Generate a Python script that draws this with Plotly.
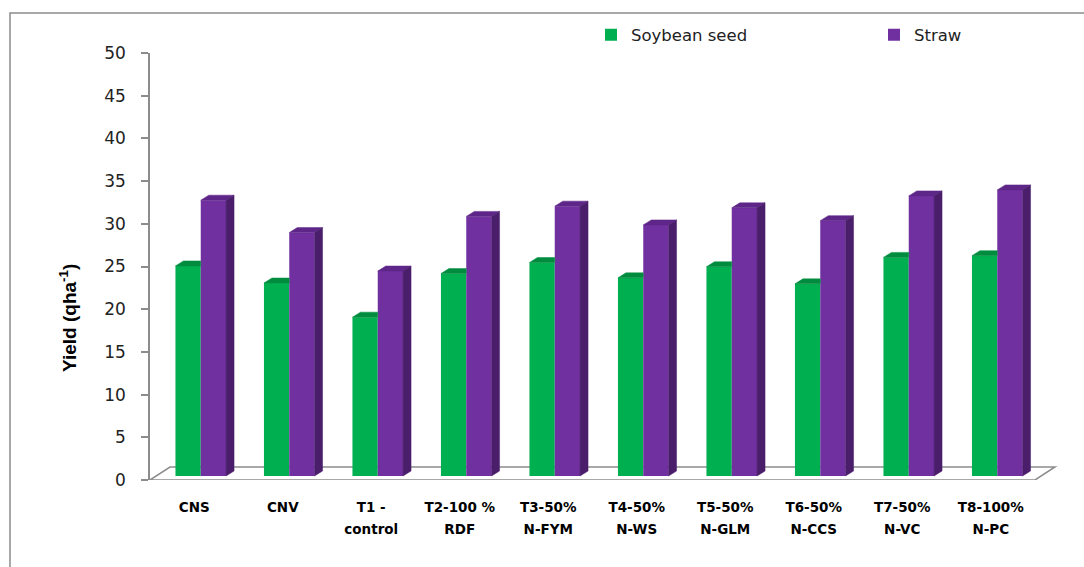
import plotly.graph_objects as go

# ---- data -------------------------------------------------------------
categories_line1 = ["CNS", "CNV", "T1 -", "T2-100 %", "T3-50%", "T4-50%", "T5-50%",
                    "T6-50%", "T7-50%", "T8-100%"]
categories_line2 = ["", "", "control", "RDF", "N-FYM", "N-WS", "N-GLM", "N-CCS",
                    "N-VC", "N-PC"]
seed_yield = [24.6, 22.6, 18.6, 23.7, 25.0, 23.2, 24.5, 22.5, 25.6, 25.8]
straw_yield = [32.3, 28.5, 24.0, 30.4, 31.6, 29.4, 31.4, 29.9, 32.8, 33.5]
y_ticks = [0, 5, 10, 15, 20, 25, 30, 35, 40, 45, 50]

# ---- layout geometry (pixels) ----------------------------------------
W, H = 1084, 567
PLOT_L, PLOT_R, PLOT_T, PLOT_B = 150, 1062, 53, 480
PX_PER_CAT = 88.5
Y_MAX = 50
PX_PER_Y = (PLOT_B - PLOT_T) / Y_MAX
X_MIN = -0.5
X_MAX = X_MIN + (PLOT_R - PLOT_L) / PX_PER_CAT


def dx(px):
    return px / PX_PER_CAT


def dy(px):
    return px / PX_PER_Y


def paper_x(px):
    return (px - PLOT_L) / (PLOT_R - PLOT_L)


def paper_y(px):
    return (PLOT_B - px) / (PLOT_B - PLOT_T)


# 3-D look: floor depth, where the bars stand in it, and the bar depth
FLOOR_DX, FLOOR_DY = dx(20), dy(13)
FRONT_DX, FRONT_DY = dx(6.5), dy(4)
BAR_DX, BAR_DY = dx(8), dy(5)
BAR_W = dx(25.3)

GREEN, GREEN_TOP = "#00B050", "#008C3F"
PURPLE, PURPLE_TOP, PURPLE_SIDE = "#7030A0", "#5E2689", "#4B1E6C"
GRID_GREY = "#8C8C8C"

n = len(categories_line1)
idx = list(range(n))
seed_x = [i + FRONT_DX - BAR_W / 2 for i in idx]
straw_x = [i + FRONT_DX + BAR_W / 2 for i in idx]

fig = go.Figure()

fig.add_trace(go.Bar(x=seed_x, y=seed_yield, base=FRONT_DY, width=BAR_W,
                     marker=dict(color=GREEN, line=dict(width=0)),
                     name="Soybean seed"))
fig.add_trace(go.Bar(x=straw_x, y=straw_yield, base=FRONT_DY, width=BAR_W,
                     marker=dict(color=PURPLE, line=dict(width=0)),
                     name="Straw"))


def faces(xs, vals, kind):
    px, py = [], []
    for xc, v in zip(xs, vals):
        xl, xr = xc - BAR_W / 2, xc + BAR_W / 2
        top = FRONT_DY + v
        if kind == "top_clipped":
            pts = [(xl, top), (xr, top), (xr, top + BAR_DY), (xl + BAR_DX, top + BAR_DY)]
        elif kind == "top":
            pts = [(xl, top), (xr, top), (xr + BAR_DX, top + BAR_DY), (xl + BAR_DX, top + BAR_DY)]
        else:
            pts = [(xr, FRONT_DY), (xr + BAR_DX, FRONT_DY + BAR_DY),
                   (xr + BAR_DX, top + BAR_DY), (xr, top)]
        pts.append(pts[0])
        px += [p[0] for p in pts] + [None]
        py += [p[1] for p in pts] + [None]
    return px, py


for xs, vals, kind, col in [
    (seed_x, seed_yield, "top_clipped", GREEN_TOP),
    (straw_x, straw_yield, "top", PURPLE_TOP),
    (straw_x, straw_yield, "side", PURPLE_SIDE),
]:
    fx, fy = faces(xs, vals, kind)
    fig.add_trace(go.Scatter(x=fx, y=fy, mode="lines", fill="toself", fillcolor=col,
                             line=dict(color=col, width=0.5), hoverinfo="skip",
                             showlegend=False))

# second line of the category labels lives on an overlaid axis
line2_vals = [i for i in idx if categories_line2[i]]
line2_text = [categories_line2[i] for i in line2_vals]
fig.add_trace(go.Scatter(x=idx, y=[0] * n, xaxis="x2", mode="markers",
                         marker=dict(opacity=0), hoverinfo="skip", showlegend=False))

# floor of the chart
x_end = n - 0.5
floor_path = (f"M {X_MIN},0 L {x_end},0 L {x_end + FLOOR_DX},{FLOOR_DY} "
              f"L {X_MIN + FLOOR_DX},{FLOOR_DY} Z")
shapes = [
    dict(type="path", path=floor_path, xref="x", yref="y", layer="below",
         line=dict(color=GRID_GREY, width=1.5), fillcolor="white"),
    # outer chart frame
    dict(type="rect", xref="paper", yref="paper", layer="below",
         x0=paper_x(10), x1=paper_x(W + 20), y0=paper_y(H + 20), y1=paper_y(13),
         line=dict(color=GRID_GREY, width=1.5), fillcolor="rgba(0,0,0,0)"),
]

tick_font = dict(family="DejaVu Sans", size=13.5, color="black", weight="bold")

fig.update_layout(
    width=W, height=H,
    margin=dict(l=PLOT_L, r=W - PLOT_R, t=PLOT_T, b=H - PLOT_B, autoexpand=False),
    paper_bgcolor="white", plot_bgcolor="white",
    barmode="overlay",
    showlegend=True,
    legend=dict(orientation="h", x=paper_x(591), y=paper_y(35), xanchor="left",
                yanchor="middle", entrywidth=238, entrywidthmode="pixels",
                font=dict(family="DejaVu Sans", size=16.5, color="#222222"),
                itemclick=False, traceorder="normal"),
    shapes=shapes,
    annotations=[dict(text="Yield (qha<sup>-1</sup>)", textangle=-90,
                      xref="paper", yref="paper", x=paper_x(68), y=paper_y(318),
                      xanchor="center", yanchor="middle", showarrow=False,
                      font=dict(family="Liberation Sans", size=19, color="black",
                                weight="bold"))],
    font=dict(family="DejaVu Sans", color="#222222"),
    xaxis=dict(range=[X_MIN, X_MAX], tickvals=idx, ticktext=categories_line1,
               showgrid=False, zeroline=False, showline=False, ticks="",
               ticklabelstandoff=17, tickfont=tick_font),
    xaxis2=dict(range=[X_MIN, X_MAX], tickvals=line2_vals, ticktext=line2_text,
                overlaying="x", side="bottom", anchor="y",
                showgrid=False, zeroline=False, showline=False, ticks="",
                ticklabelstandoff=39, tickfont=tick_font),
    yaxis=dict(range=[0, Y_MAX], tickvals=y_ticks, showgrid=False, zeroline=False,
               showline=True, linecolor=GRID_GREY, linewidth=1.5,
               ticks="outside", ticklen=7, tickcolor=GRID_GREY, tickwidth=1.5,
               ticklabelstandoff=12,
               tickfont=dict(family="DejaVu Sans", size=17, color="#222222")),
)

fig.write_html("out.html")
